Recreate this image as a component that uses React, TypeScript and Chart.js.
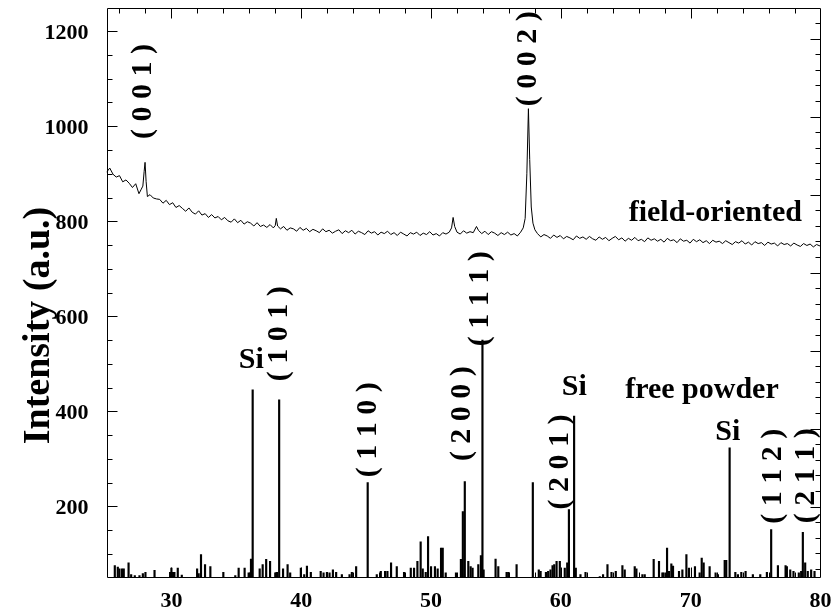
import React, { useEffect, useRef } from 'react';
import { Chart, registerables } from 'chart.js';

Chart.register(...registerables);

// field-oriented pattern (2-theta, counts)
const fieldTheta = [
  25.0, 25.25, 25.5, 25.75, 26.0, 26.25, 26.5, 26.75, 27.0, 27.25, 27.5, 27.65, 27.8, 27.9, 27.97, 28.05, 28.15, 28.35, 28.6, 28.85,
  29.1, 29.35, 29.6, 29.85, 30.1, 30.35, 30.6, 30.85, 31.1, 31.35, 31.6, 31.85, 32.1, 32.35, 32.6, 32.85, 33.1, 33.35, 33.6, 33.85,
  34.1, 34.35, 34.6, 34.85, 35.1, 35.35, 35.6, 35.85, 36.1, 36.35, 36.6, 36.85, 37.1, 37.35, 37.6, 37.85, 38.0, 38.08, 38.18, 38.4,
  38.65, 38.9, 39.15, 39.4, 39.65, 39.9, 40.15, 40.4, 40.65, 40.9, 41.15, 41.4, 41.65, 41.9, 42.15, 42.4, 42.65, 42.9, 43.15, 43.4,
  43.65, 43.9, 44.15, 44.4, 44.65, 44.9, 45.15, 45.4, 45.65, 45.9, 46.15, 46.4, 46.65, 46.9, 47.15, 47.4, 47.65, 47.9, 48.15, 48.4,
  48.65, 48.9, 49.15, 49.4, 49.65, 49.9, 50.15, 50.4, 50.65, 50.9, 51.15, 51.4, 51.58, 51.7, 51.82, 52.0, 52.25, 52.5, 52.75, 53.0,
  53.25, 53.5, 53.65, 53.9, 54.15, 54.4, 54.65, 54.9, 55.15, 55.4, 55.65, 55.9, 56.15, 56.4, 56.65, 56.9, 57.1, 57.25, 57.38, 57.5,
  57.6, 57.72, 57.85, 58.0, 58.2, 58.45, 58.7, 58.95, 59.2, 59.45, 59.7, 59.95, 60.2, 60.45, 60.7, 60.95, 61.2, 61.45, 61.7, 61.95,
  62.2, 62.45, 62.7, 62.95, 63.2, 63.45, 63.7, 63.95, 64.2, 64.45, 64.7, 64.95, 65.2, 65.45, 65.7, 65.95, 66.2, 66.45, 66.7, 66.95,
  67.2, 67.45, 67.7, 67.95, 68.2, 68.45, 68.7, 68.95, 69.2, 69.45, 69.7, 69.95, 70.2, 70.45, 70.7, 70.95, 71.2, 71.45, 71.7, 71.95,
  72.2, 72.45, 72.7, 72.95, 73.2, 73.45, 73.7, 73.95, 74.2, 74.45, 74.7, 74.95, 75.2, 75.45, 75.7, 75.95, 76.2, 76.45, 76.7, 76.95,
  77.2, 77.45, 77.7, 77.95, 78.2, 78.45, 78.7, 78.95, 79.2, 79.45, 79.7, 79.95, 80.0,
];
const fieldCounts = [
  903, 912, 899, 893, 896, 883, 887, 880, 871, 879, 858, 866, 874, 905, 924, 884, 852, 856, 849, 847,
  846, 838, 844, 835, 839, 829, 833, 827, 821, 828, 819, 815, 822, 813, 816, 808, 814, 807, 810, 803,
  808, 801, 798, 805, 797, 802, 794, 799, 796, 790, 797, 789, 792, 787, 793, 786, 791, 806, 790, 784,
  789, 781, 786, 784, 779, 787, 781, 785, 778, 783, 780, 776, 784, 778, 781, 775, 779, 782, 774, 780,
  776, 781, 773, 779, 776, 772, 780, 775, 778, 771, 777, 774, 779, 772, 776, 770, 777, 773, 769, 776,
  773, 777, 770, 775, 772, 778, 771, 774, 769, 776, 773, 777, 786, 808, 789, 777, 773, 780, 775, 778,
  776, 789, 781, 774, 779, 772, 778, 775, 770, 776, 772, 777, 771, 774, 769, 777, 786, 806, 900, 1037,
  930, 830, 796, 782, 774, 767, 772, 769, 764, 771, 766, 770, 763, 768, 765, 761, 769, 764, 767, 762,
  768, 763, 760, 767, 762, 766, 759, 764, 768, 761, 765, 758, 764, 760, 766, 759, 762, 757, 765, 760,
  763, 758, 762, 756, 764, 759, 761, 755, 763, 758, 760, 754, 762, 757, 761, 755, 759, 753, 760, 756,
  758, 753, 759, 755, 751, 757, 754, 759, 752, 756, 750, 757, 753, 755, 749, 756, 752, 754, 748, 755,
  751, 753, 748, 754, 750, 747, 753, 749, 752, 746, 751, 748, 750,
];

// free powder stick pattern (2-theta, counts)
const stickTheta = [
  25.64, 25.87, 26.0, 26.2, 26.33, 26.7, 26.9, 27.18, 27.54, 27.8, 28.0, 28.7, 29.9, 30.0, 30.13, 30.23, 30.49, 30.8,
  31.98, 32.1, 32.28, 32.59, 33.0, 34.0, 34.92, 35.18, 35.64, 35.95, 36.13, 36.26, 36.8, 37.03, 37.3, 37.6, 38.0, 38.13,
  38.3, 38.6, 38.95, 39.15, 39.97, 40.23, 40.44, 40.74, 41.5, 41.72, 41.98, 42.18, 42.44, 42.69, 43.13, 43.72, 43.9, 44.23,
  45.12, 45.82, 46.13, 46.46, 46.64, 46.92, 47.36, 47.92, 48.44, 48.69, 48.95, 49.2, 49.36, 49.59, 49.77, 50.0, 50.3, 50.51,
  50.77, 50.9, 51.13, 51.92, 52.3, 52.45, 52.6, 52.87, 53.05, 53.2, 53.64, 53.84, 53.96, 54.05, 54.97, 55.18, 55.82, 55.95,
  56.59, 57.84, 58.3, 58.44, 58.85, 59.02, 59.2, 59.36, 59.49, 59.67, 59.92, 60.3, 60.49, 60.62, 61.02, 61.15, 61.51, 61.9,
  63.0, 63.25, 63.59, 63.9, 64.23, 64.74, 64.92, 65.69, 65.82, 66.28, 66.46, 67.15, 67.56, 67.82, 67.92, 68.18, 68.33, 68.51,
  68.64, 69.1, 69.36, 69.67, 69.87, 70.33, 70.69, 70.85, 71.0, 71.46, 71.92, 72.1, 72.62, 72.74, 73.0, 73.44, 73.64, 73.9,
  74.23, 74.79, 75.36, 75.87, 76.2, 76.72, 77.31, 77.41, 77.67, 77.92, 78.33, 78.51, 78.64, 78.82, 79.02, 79.28, 79.54,
];
const stickCounts = [
  75, 72, 68, 68, 68, 81, 56, 54, 54, 58, 61, 65, 61, 70, 61, 61, 70, 55,
  68, 58, 98, 77, 73, 61, 54, 70, 70, 60, 89, 445, 68, 77, 88, 84, 60, 61,
  424, 68, 77, 60, 70, 56, 74, 61, 63, 60, 61, 60, 66, 61, 56, 56, 61, 73,
  250, 56, 63, 63, 63, 81, 73, 61, 70, 70, 84, 125, 68, 61, 136, 73, 73, 68,
  112, 112, 60, 60, 88, 189, 252, 84, 73, 70, 77, 96, 550, 66, 89, 73, 61, 61,
  77, 250, 66, 63, 61, 63, 66, 75, 77, 84, 84, 70, 81, 193, 390, 70, 56, 61,
  52, 56, 77, 61, 63, 75, 66, 73, 68, 56, 56, 88, 84, 60, 60, 112, 63, 79,
  74, 63, 66, 98, 70, 73, 60, 91, 81, 73, 60, 56, 86, 86, 323, 61, 56, 61,
  63, 56, 56, 61, 151, 75, 75, 73, 66, 63, 60, 63, 145, 81, 63, 66, 63,
];

const xTickValues = [30, 40, 50, 60, 70, 80];
const yTickValues = [200, 400, 600, 800, 1000, 1200];

const millerLabels = ['( 0 0 1 )', '( 0 0 2 )', '( 1 0 1 )', '( 1 1 0 )', '( 2 0 0 )', '( 1 1 1 )', '( 2 0 1 )', '( 1 1 2 )', '( 2 1 1 )'];
const millerTheta = [27.82, 57.5, 38.28, 45.14, 52.37, 53.78, 59.95, 76.37, 78.92];
const millerCounts = [1073, 1142, 563, 361, 395, 637, 293, 263, 264];

const noteLabels = ['Si', 'Si', 'Si', 'free powder', 'field-oriented'];
const noteTheta = [36.16, 61.03, 72.86, 70.87, 71.9];
const noteCounts = [491, 435, 340, 428, 800];

const FONT = '"Liberation Serif", "Times New Roman", serif';

const framePlugin = {
  id: 'frameAndNotes',
  afterDatasetsDraw(chart: any) {
    const { ctx, chartArea: a, scales } = chart;
    const xs = scales.x;
    const ys = scales.y;
    const ys2 = scales.y2;
    ctx.save();
    ctx.strokeStyle = '#000';
    ctx.lineWidth = 1;
    const L = Math.round(a.left) + 0.5;
    const R = Math.round(a.right) - 0.5;
    const T = Math.round(a.top) + 0.5;
    const B = Math.round(a.bottom) - 0.5;
    ctx.beginPath();
    ctx.rect(L, T, R - L, B - T);
    for (let v = 26; v < 80; v += 2) {
      const len = v % 10 === 0 ? 10 : 5;
      const px = Math.round(xs.getPixelForValue(v)) + 0.5;
      ctx.moveTo(px, T);
      ctx.lineTo(px, T + len);
      ctx.moveTo(px, B);
      ctx.lineTo(px, B - len);
    }
    for (let v = 100; v < 1250; v += 50) {
      const len = v % 200 === 0 ? 10 : 5;
      const py = Math.round(ys.getPixelForValue(v)) + 0.5;
      ctx.moveTo(L, py);
      ctx.lineTo(L + len, py);
    }
    for (let v = 20; v < 740; v += 20) {
      const len = v % 100 === 0 ? 10 : 5;
      const py = Math.round(ys2.getPixelForValue(v)) + 0.5;
      ctx.moveTo(R, py);
      ctx.lineTo(R - len, py);
    }
    ctx.stroke();

    ctx.fillStyle = '#000';
    ctx.font = `bold 30px ${FONT}`;
    ctx.textAlign = 'center';
    ctx.textBaseline = 'middle';
    millerLabels.forEach((t, i) => {
      const px = xs.getPixelForValue(millerTheta[i]);
      const py = ys.getPixelForValue(millerCounts[i]);
      ctx.save();
      ctx.translate(px, py);
      ctx.rotate(-Math.PI / 2);
      ctx.fillText(t, 0, 0);
      ctx.restore();
    });
    ctx.textBaseline = 'alphabetic';
    noteLabels.forEach((t, i) => {
      ctx.fillText(t, xs.getPixelForValue(noteTheta[i]), ys.getPixelForValue(noteCounts[i]));
    });

    ctx.font = `bold 38px ${FONT}`;
    ctx.textBaseline = 'middle';
    ctx.save();
    ctx.translate(a.left - 67, a.top + 318);
    ctx.rotate(-Math.PI / 2);
    ctx.fillText('Intensity (a.u.)', 0, 0);
    ctx.restore();
    ctx.restore();
  },
};

const zeroPad = (s: any) => {
  s.paddingTop = 0;
  s.paddingBottom = 0;
  s.paddingLeft = 0;
  s.paddingRight = 0;
};

export default function App() {
  const ref = useRef<HTMLCanvasElement | null>(null);
  useEffect(() => {
    if (!ref.current) return;
    const chart = new Chart(ref.current, {
      type: 'line',
      data: {
        datasets: [
          {
            type: 'line',
            label: 'field-oriented',
            data: fieldTheta.map((t, i) => ({ x: t, y: fieldCounts[i] })),
            borderColor: '#000',
            borderWidth: 1,
            pointRadius: 0,
            tension: 0,
            fill: false,
          } as any,
          {
            type: 'bar',
            label: 'free powder',
            data: stickTheta.map((t, i) => ({ x: t, y: stickCounts[i] })),
            backgroundColor: '#000',
            borderWidth: 0,
            barThickness: 1.5,
          } as any,
        ],
      },
      options: {
        responsive: false,
        animation: false,
        devicePixelRatio: 1,
        layout: { padding: { left: 0, right: 15.5, top: 7.5, bottom: 0 } },
        plugins: { legend: { display: false }, tooltip: { enabled: false } },
        scales: {
          x: {
            type: 'linear',
            min: 25,
            max: 80,
            offset: false,
            grid: { display: false, drawTicks: false, offset: false },
            border: { display: false },
            ticks: {
              color: '#000',
              font: { family: FONT, size: 22, weight: 'bold' },
              padding: 11,
              maxRotation: 0,
              autoSkip: false,
              callback: (v: any) => String(v),
            },
            afterBuildTicks: (s: any) => {
              s.ticks = xTickValues.map((v) => ({ value: v }));
            },
            afterFit: (s: any) => {
              s.height = 34.5;
              zeroPad(s);
            },
          },
          y: {
            type: 'linear',
            min: 50,
            max: 1250,
            grid: { display: false, drawTicks: false },
            border: { display: false },
            ticks: {
              color: '#000',
              font: { family: FONT, size: 22, weight: 'bold' },
              padding: 18,
              labelOffset: 2,
              autoSkip: false,
              callback: (v: any) => String(v),
            },
            afterBuildTicks: (s: any) => {
              s.ticks = yTickValues.map((v) => ({ value: v }));
              s.min = 50;
              s.max = 1250;
            },
            afterFit: (s: any) => {
              s.width = 106.5;
              zeroPad(s);
            },
          },
          y2: {
            type: 'linear',
            position: 'right',
            min: 9,
            max: 740,
            display: false,
          },
        },
      } as any,
      plugins: [framePlugin],
    });
    return () => chart.destroy();
  }, []);
  return (
    <div style={{ position: 'absolute', left: 0, top: 0, width: 836, height: 612, background: '#fff' }}>
      <canvas ref={ref} width={836} height={612} style={{ width: 836, height: 612 }} />
    </div>
  );
}
